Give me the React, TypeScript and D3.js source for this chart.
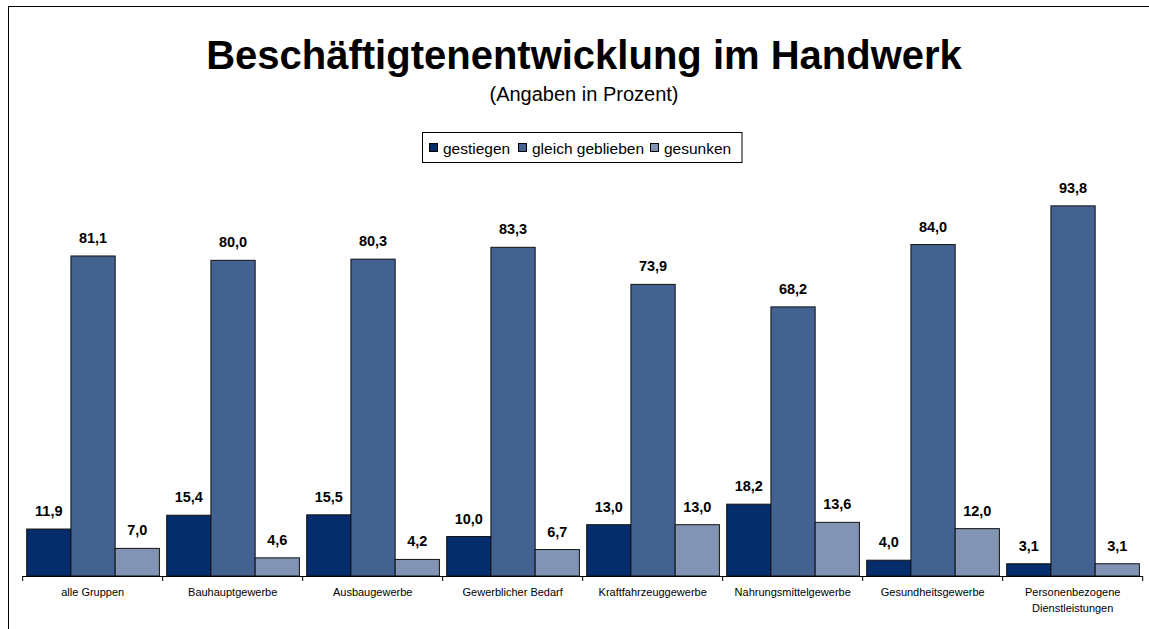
import React from "react";
import * as d3 from "d3";

const categories = [
  ["alle Gruppen"],
  ["Bauhauptgewerbe"],
  ["Ausbaugewerbe"],
  ["Gewerblicher Bedarf"],
  ["Kraftfahrzeuggewerbe"],
  ["Nahrungsmittelgewerbe"],
  ["Gesundheitsgewerbe"],
  ["Personenbezogene", "Dienstleistungen"],
];
const seriesNames = ["gestiegen", "gleich geblieben", "gesunken"];
const gestiegen = [11.9, 15.4, 15.5, 10.0, 13.0, 18.2, 4.0, 3.1];
const gleich = [81.1, 80.0, 80.3, 83.3, 73.9, 68.2, 84.0, 93.8];
const gesunken = [7.0, 4.6, 4.2, 6.7, 13.0, 13.6, 12.0, 3.1];
const colors = ["#062d6b", "#44628f", "#8194b4"];

const W = 1149;
const H = 629;
const font = "Arial, 'Liberation Sans', sans-serif";

export default function App() {
  const series = [gestiegen, gleich, gesunken];
  const x0 = d3
    .scaleBand<number>()
    .domain(d3.range(categories.length))
    .range([22.7, 1142.7])
    .paddingInner(0)
    .paddingOuter(0);
  const x1 = d3
    .scaleBand<number>()
    .domain([0, 1, 2])
    .range([4, x0.bandwidth() - 3.3]);
  const y = d3.scaleLinear().domain([0, 100]).range([576, 181.4]);
  const fmt = (v: number) => d3.format(".1f")(v).replace(".", ",");

  const legendItems = [
    { x: 429, tx: 443 },
    { x: 518, tx: 532 },
    { x: 650, tx: 664 },
  ];

  return (
    <svg
      width={W}
      height={H}
      style={{ position: "absolute", left: 0, top: 0, display: "block", background: "#fff" }}
      fontFamily={font}
    >
      <rect x={0} y={0} width={W} height={H} fill="#fff" />
      <rect x={8.5} y={6.5} width={W + 20} height={H + 20} fill="none" stroke="#000" strokeWidth={1} />
      <text x={584} y={69} textAnchor="middle" fontSize={40} fontWeight="bold" fill="#000">
        Beschäftigtenentwicklung im Handwerk
      </text>
      <text x={584} y={101} textAnchor="middle" fontSize={20} fill="#000">
        (Angaben in Prozent)
      </text>

      <rect x={422.5} y={132.5} width={319.5} height={30} fill="#fff" stroke="#000" strokeWidth={1} />
      {seriesNames.map((n, i) => (
        <g key={n}>
          <rect
            x={legendItems[i].x + 0.5}
            y={143.5}
            width={8}
            height={8}
            fill={colors[i]}
            stroke="#000"
            strokeWidth={1}
          />
          <text x={legendItems[i].tx} y={153.5} fontSize={15.5} fill="#000">
            {n}
          </text>
        </g>
      ))}

      {categories.map((c, ci) => (
        <g key={ci} transform={`translate(${x0(ci)},0)`}>
          {series.map((s, si) => {
            const bx = x1(si)!;
            const bw = x1.bandwidth();
            const v = s[ci];
            return (
              <g key={si}>
                <rect
                  x={bx}
                  y={y(v)}
                  width={bw}
                  height={y(0) - y(v)}
                  fill={colors[si]}
                  stroke="#111"
                  strokeWidth={1}
                />
                <text
                  x={bx + bw / 2}
                  y={y(v) - 13}
                  textAnchor="middle"
                  fontSize={14.5}
                  fontWeight="bold"
                  fill="#000"
                >
                  {fmt(v)}
                </text>
              </g>
            );
          })}
          {c.map((line, li) => (
            <text
              key={li}
              x={x0.bandwidth() / 2}
              y={596 + li * 16}
              textAnchor="middle"
              fontSize={11}
              fill="#000"
            >
              {line}
            </text>
          ))}
        </g>
      ))}

      <line x1={22.7} x2={1142.7} y1={576.5} y2={576.5} stroke="#000" strokeWidth={1} />
      {d3.range(categories.length + 1).map((i) => {
        const tx = 22.7 + i * x0.bandwidth();
        return <line key={i} x1={tx} x2={tx} y1={576} y2={581} stroke="#000" strokeWidth={1} />;
      })}
    </svg>
  );
}
